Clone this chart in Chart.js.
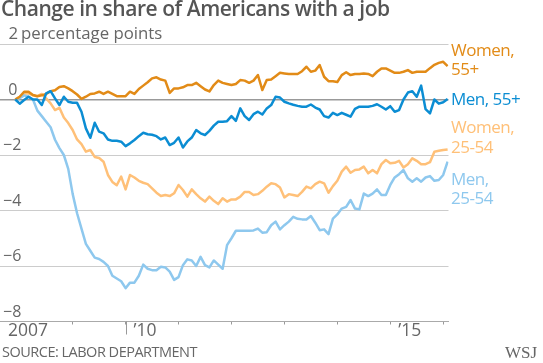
<!DOCTYPE html>
<html>
<head>
<meta charset="utf-8">
<script src="https://cdn.jsdelivr.net/npm/chart.js@4.4.1/dist/chart.umd.min.js"></script>
<style>
  html, body { margin: 0; padding: 0; background: #fff; }
  #wrap { position: relative; width: 543px; height: 363px; overflow: hidden; }
  canvas { position: absolute; left: 0; top: 0; }
  .t { position: absolute; white-space: nowrap; font-family: "Open Sans", sans-serif; }
</style>
</head>
<body>
<div id="wrap">
  <canvas id="c" width="543" height="363"></canvas>
  <div class="t" id="title" style="left:1px; top:-2px; font-size:21px; line-height:21px; font-weight:600; color:#555; letter-spacing:-0.45px;">Change in share of Americans with a job</div>
  <div class="t" id="source" style="left:2px; top:344.6px; font-size:14.5px; line-height:14.5px; color:#666; letter-spacing:-0.5px;">SOURCE: LABOR DEPARTMENT</div>
  <div class="t" id="wsj" style="left:505px; top:344px; font-size:17px; line-height:17px; color:#666; font-family:'Liberation Serif', 'DejaVu Serif', serif;">WSJ</div>
  <div id="labels"></div>
</div>
<script>
// ---- Data (monthly, Dec 2007 = index 0 ... Feb 2016 = index 98), change in percentage points ----
const startLabel = 'Dec 2007';

const women55 = [0.0, 0.1, 0.28, 0.28, 0.16, 0.12, 0.15, 0.2, 0.3, 0.33, 0.45, 0.48, 0.4, 0.3, 0.18, 0.02, 0.1, 0.2, 0.22, 0.28, 0.2, 0.28, 0.2, 0.12, 0.12, 0.12, 0.28, 0.2, 0.38, 0.5, 0.62,
  0.76, 0.8, 0.72, 0.68, 0.24, 0.4, 0.4, 0.44, 0.52, 0.52, 0.6, 0.48, 0.36, 0.29, 0.52, 0.68, 0.6, 0.56, 0.52, 0.56, 0.7, 0.68, 0.6, 0.68, 0.88, 0.34, 0.7, 0.72, 0.84, 0.96, 0.94, 0.92, 0.92,
  0.92, 1.02, 1.18, 1.0, 1.04, 1.24, 0.82, 0.66, 0.66, 0.63, 0.88, 0.98, 0.88, 0.92, 0.92, 0.94, 0.92, 0.84, 1.0, 1.12, 1.12, 1.04, 0.96, 0.96, 1.0, 1.06, 0.96, 1.0, 1.0, 1.0, 1.13, 1.25, 1.32, 1.36, 1.2];

const men55 = [0.0, -0.15, -0.02, 0.1, 0.0, 0.0, -0.2, 0.22, 0.3, 0.04, -0.2, 0.1, -0.08, -0.12, -0.12, -0.44, -1.04, -1.38, -0.84, -1.16, -1.22, -1.44, -1.49, -1.49, -1.52, -1.68, -1.58, -1.46, -1.32, -1.2, -1.25,
  -1.27, -1.32, -1.44, -1.37, -1.64, -1.56, -1.37, -1.73, -1.51, -1.37, -1.1, -1.22, -1.28, -1.13, -0.94, -0.8, -0.8, -0.78, -0.6, -0.77, -0.32, -0.6, -0.74, -0.53, -0.44, -0.54, -0.32, -0.2, 0.1, 0.07, -0.08, -0.14, -0.19,
  -0.23, -0.26, -0.26, -0.18, -0.29, -0.36, -0.6, -0.65, -0.48, -0.56, -0.48, -0.55, -0.62, -0.34, -0.26, -0.26, -0.26, -0.23, -0.17, -0.26, -0.36, -0.24, -0.44, -0.38, 0.0, 0.25, 0.3, 0.1, 0.5, -0.35, -0.5, 0.0, -0.15, -0.1, 0.02];

const women2554 = [0.0, 0.1, 0.22, 0.22, 0.15, 0.12, 0.2, 0.04, -0.14, -0.38, -0.3, -0.65, -0.85, -1.1, -1.44, -1.61, -1.88, -1.82, -2.07, -2.11, -2.24, -2.72, -2.97, -3.09, -2.78, -3.24, -2.72, -2.81, -2.93, -3.0, -3.05,
  -3.2, -3.36, -3.48, -3.44, -3.48, -3.38, -3.08, -3.26, -3.5, -3.24, -3.41, -3.56, -3.68, -3.5, -3.65, -3.77, -3.56, -3.68, -3.6, -3.6, -3.5, -3.33, -3.33, -3.44, -3.41, -3.29, -3.14, -3.02, -3.05, -3.17, -3.53, -3.41, -3.44,
  -3.48, -3.33, -3.14, -3.2, -3.05, -2.96, -3.02, -3.36, -3.12, -2.93, -2.6, -2.42, -2.64, -2.54, -2.52, -2.42, -2.66, -2.54, -2.66, -2.33, -2.18, -2.3, -2.28, -2.21, -2.45, -2.33, -2.12, -2.21, -2.33, -2.33, -2.26, -1.88, -1.85, -1.82, -1.8];

const men2554 = [0.0, 0.05, 0.15, 0.1, 0.0, -0.4, -0.6, -0.8, -1.0, -1.45, -1.75, -2.0, -2.5, -3.4, -4.1, -4.65, -5.2, -5.45, -5.7, -5.75, -5.85, -6.0, -6.35, -6.45, -6.55, -6.8, -6.6, -6.6, -6.35, -5.95, -6.1,
  -6.15, -6.15, -6.03, -6.05, -6.2, -6.5, -6.4, -5.97, -5.76, -5.8, -6.0, -5.67, -5.97, -6.05, -5.8, -5.95, -6.1, -5.25, -5.0, -4.73, -4.73, -4.73, -4.73, -4.72, -4.65, -4.8, -4.78, -4.53, -4.4, -4.68, -4.53, -4.4, -4.23,
  -4.3, -4.32, -4.32, -4.2, -4.44, -4.71, -4.68, -4.85, -4.29, -4.14, -3.93, -3.87, -3.62, -3.93, -3.96, -3.39, -3.48, -3.39, -3.24, -3.44, -3.44, -3.08, -2.81, -2.69, -2.54, -2.84, -2.96, -2.84, -2.96, -2.81, -2.76, -2.93, -2.9, -2.72, -2.24];

const seriesNames = ['Men, 55+', 'Women, 55+', 'Men, 25-54', 'Women, 25-54'];
const seriesColors = ['#0b8dd3', '#e28b17', '#8ec8ee', '#ffc078'];

const yTickValues = [2, 0, -2, -4, -6, -8];
const yTickLabels = ['\u20042\u2009percentage points', '\u20040', '\u22122', '\u22124', '\u22126', '\u22128'];

const XMIN = -3.47, XMAX = 98.2;
const xTickValues = [XMIN, 13, 25, 37, 49, 61, 73, 85, 97];
const xTickLabels = ['2007', '', '\u201910', '', '', '', '', '\u201915', ''];
const majorTickValue = 25;

// ---- Build datasets ----
const allSeries = [men55, women55, men2554, women2554];
const datasets = allSeries.map((arr, k) => ({
  label: seriesNames[k],
  data: arr.map((v, i) => ({ x: i, y: v })),
  borderColor: seriesColors[k],
  borderWidth: 2.5,
  pointRadius: 0,
  tension: 0,
  borderJoinStyle: 'round',
  fill: false
}));

const longTick = {
  id: 'longTick',
  afterDraw(chart) {
    const xs = chart.scales.x;
    const px = Math.round(xs.getPixelForValue(majorTickValue)) + 0.5;
    const ctx = chart.ctx;
    ctx.save();
    ctx.strokeStyle = '#999';
    ctx.lineWidth = 1;
    ctx.beginPath();
    ctx.moveTo(px, xs.top);
    ctx.lineTo(px, xs.top + 13);
    ctx.stroke();
    ctx.restore();
  }
};

new Chart(document.getElementById('c'), {
  type: 'line',
  data: { datasets },
  plugins: [longTick],
  options: {
    responsive: false,
    animation: false,
    events: [],
    layout: { padding: { left: 0, right: 94.5, top: 44, bottom: 0 } },
    plugins: { legend: { display: false }, tooltip: { enabled: false }, title: { display: false } },
    scales: {
      x: {
        type: 'linear',
        min: XMIN,
        max: XMAX,
        afterBuildTicks: (s) => { s.ticks = xTickValues.map(v => ({ value: v })); },
        afterFit: (s) => { s.height = 41.5; },
        grid: {
          drawOnChartArea: false,
          drawTicks: true,
          tickLength: 3,
          color: (c) => (c.tick && c.tick.value === XMIN) ? 'rgba(0,0,0,0)' : '#999'
        },
        border: { display: true, color: '#aaa', width: 1 },
        ticks: {
          autoSkip: false,
          maxRotation: 0,
          align: 'start',
          labelOffset: 8,
          padding: -2,
          color: '#666',
          font: { family: 'Open Sans', size: 17.5, lineHeight: 1 },
          callback: (v) => { const i = xTickValues.indexOf(v); return i >= 0 ? xTickLabels[i] : ''; }
        }
      },
      y: {
        min: -8,
        max: 2,
        afterBuildTicks: (s) => { s.ticks = yTickValues.map(v => ({ value: v })); },
        afterFit: (s) => { s.width = 0; },
        grid: {
          drawTicks: false,
          color: (c) => {
            if (!c.tick) return '#ccc';
            if (c.tick.value === -8) return 'rgba(0,0,0,0)';
            if (c.tick.value === 0) return '#999';
            return '#ccc';
          },
          lineWidth: (c) => (c.tick && c.tick.value === 0) ? 1.5 : 1
        },
        border: { display: false },
        ticks: {
          mirror: true,
          padding: 3,
          labelOffset: -9.5,
          color: '#666',
          font: (c) => ({ family: 'Open Sans', size: (c.tick && c.tick.value === 2) ? 16.8 : 16 }),
          callback: (v) => { const i = yTickValues.indexOf(v); return i >= 0 ? yTickLabels[i] : ''; }
        }
      }
    }
  }
});

// ---- Series labels at right ----
const labelLines = [
  { text: 'Women,', color: seriesColors[1], base: 55.7 },
  { text: '55+', color: seriesColors[1], base: 75.2 },
  { text: 'Men, 55+', color: seriesColors[0], base: 105 },
  { text: 'Women,', color: seriesColors[3], base: 133.3 },
  { text: '25-54', color: seriesColors[3], base: 153 },
  { text: 'Men,', color: seriesColors[2], base: 185 },
  { text: '25-54', color: seriesColors[2], base: 204.5 }
];
const lab = document.getElementById('labels');
const fs = 17;
labelLines.forEach(l => {
  const d = document.createElement('div');
  d.className = 't';
  d.textContent = l.text;
  d.style.left = '451px';
  d.style.fontSize = fs + 'px';
  d.style.lineHeight = fs + 'px';
  d.style.letterSpacing = '-0.5px';
  d.style.color = l.color;
  d.style.top = (l.base - 0.888 * fs) + 'px';
  lab.appendChild(d);
});
</script>
</body>
</html>
